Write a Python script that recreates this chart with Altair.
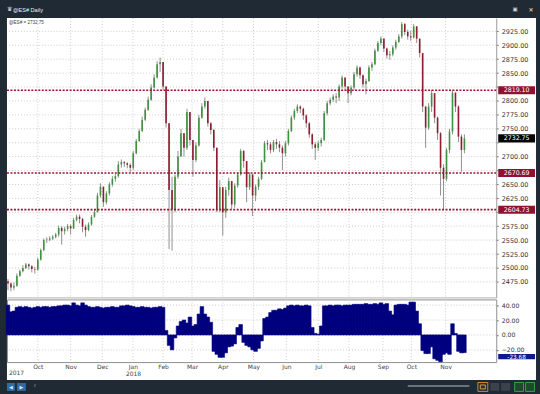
import altair as alt
import numpy as np
import pandas as pd

# ---------------- data (one bar per two sessions) ----------------
closes = [
    2472, 2465, 2468, 2486, 2494, 2500, 2506, 2503, 2498, 2497,
    2515, 2532, 2550, 2551, 2553, 2556, 2560, 2572, 2566, 2570,
    2575, 2571, 2586, 2592, 2588, 2574, 2568, 2578, 2592, 2600,
    2630, 2646, 2618, 2634, 2650, 2660, 2665, 2686, 2690, 2688,
    2685, 2680, 2706, 2728, 2746, 2766, 2784, 2802, 2824, 2842,
    2866, 2870, 2826, 2760, 2640, 2606, 2664, 2700, 2742, 2716,
    2780, 2730, 2694, 2720, 2770, 2790, 2800, 2760, 2748, 2716,
    2606, 2645, 2600, 2640, 2656, 2614, 2648, 2668, 2710, 2692,
    2645, 2668, 2630, 2646, 2660, 2690, 2724, 2722, 2712, 2726,
    2722, 2716, 2706, 2724, 2746, 2770, 2782, 2790, 2786, 2774,
    2760, 2740, 2722, 2716, 2724, 2730, 2778, 2796, 2802, 2808,
    2806, 2826, 2842, 2826, 2814, 2824, 2848, 2860, 2846, 2830,
    2836, 2860, 2866, 2890, 2904, 2912, 2894, 2882, 2884, 2896,
    2906, 2916, 2938, 2924, 2916, 2914, 2934, 2912, 2886, 2790,
    2752, 2790, 2814, 2770, 2742, 2680, 2660, 2712, 2745, 2815,
    2790, 2736, 2712, 2732.75,
]
highs = [
    2480, 2474, 2474, 2490, 2497, 2505, 2509, 2508, 2505, 2502,
    2518, 2535, 2553, 2555, 2557, 2559, 2563, 2576, 2575, 2574,
    2579, 2578, 2590, 2596, 2596, 2590, 2578, 2582, 2595, 2604,
    2635, 2652, 2642, 2638, 2654, 2665, 2669, 2692, 2695, 2692,
    2690, 2688, 2710, 2732, 2750, 2772, 2788, 2808, 2830, 2848,
    2872, 2878, 2866, 2822, 2700, 2664, 2668, 2710, 2750, 2740,
    2786, 2778, 2730, 2726, 2775, 2796, 2806, 2798, 2762, 2750,
    2690, 2658, 2640, 2646, 2662, 2650, 2652, 2672, 2714, 2712,
    2680, 2672, 2660, 2650, 2664, 2694, 2728, 2730, 2726, 2730,
    2732, 2728, 2720, 2728, 2750, 2774, 2786, 2794, 2792, 2788,
    2776, 2762, 2742, 2726, 2728, 2734, 2782, 2800, 2806, 2812,
    2814, 2830, 2846, 2842, 2826, 2828, 2852, 2864, 2862, 2848,
    2840, 2864, 2870, 2894, 2908, 2916, 2912, 2896, 2890, 2900,
    2910, 2920, 2942, 2940, 2928, 2926, 2938, 2934, 2910, 2886,
    2780, 2796, 2820, 2812, 2772, 2744, 2686, 2716, 2750, 2819,
    2814, 2792, 2740, 2740,
]
lows = [
    2460, 2458, 2460, 2466, 2484, 2492, 2498, 2497, 2492, 2490,
    2495, 2513, 2530, 2545, 2548, 2550, 2553, 2556, 2542, 2560,
    2566, 2560, 2570, 2584, 2580, 2564, 2556, 2566, 2576, 2590,
    2600, 2626, 2610, 2614, 2630, 2646, 2655, 2662, 2680, 2681,
    2679, 2672, 2676, 2704, 2726, 2744, 2764, 2782, 2800, 2822,
    2840, 2852, 2820, 2752, 2534, 2531, 2600, 2660, 2700, 2700,
    2712, 2720, 2664, 2690, 2718, 2768, 2786, 2754, 2740, 2710,
    2600, 2600, 2558, 2590, 2630, 2606, 2608, 2644, 2666, 2680,
    2618, 2640, 2593, 2620, 2640, 2658, 2690, 2712, 2706, 2708,
    2714, 2708, 2676, 2700, 2720, 2744, 2766, 2778, 2778, 2766,
    2752, 2734, 2714, 2694, 2710, 2718, 2728, 2774, 2792, 2798,
    2796, 2800, 2822, 2818, 2796, 2810, 2820, 2844, 2840, 2824,
    2812, 2834, 2854, 2864, 2888, 2900, 2888, 2876, 2874, 2880,
    2892, 2904, 2912, 2918, 2910, 2908, 2912, 2904, 2878, 2780,
    2716, 2748, 2780, 2760, 2730, 2630, 2605, 2656, 2706, 2740,
    2780, 2726, 2673, 2706,
]
osc_values = [
    40, 31, 32, 37, 38, 37, 38, 37, 36, 37,
    38, 37, 38, 38, 37, 38, 38, 39, 39, 40,
    40, 39, 43, 40, 39, 43, 40, 38, 37, 37,
    38, 37, 36, 37, 37, 38, 37, 37, 39, 39,
    40, 39, 38, 37, 37, 38, 37, 37, 36, 37,
    37, 38, 37, 6, -14, -20, -4, 12, 18, 20,
    16, 24, 12, 14, 28, 38, 28, 24, 17, -22,
    -26, -30, -30, -24, -16, -15, -12, 10, 14, -10,
    -14, -16, -20, -22, -18, -8, 22, 24, 30, 33,
    33, 35, 34, 36, 39, 40, 39, 40, 39, 39,
    40, 39, 10, 2, 1, 12, 39, 39, 40, 39,
    40, 40, 39, 40, 40, 40, 41, 41, 41, 41,
    42, 41, 41, 42, 41, 43, 41, 42, 32, 27,
    40, 41, 41, 41, 40, 44, 44, 32, 15, -21,
    -25, -25, -16, -32, -34, -36, -26, -24, -26, 15,
    2, -22, -24, -23.68,
]
first_open = 2476

month_ticks = [10, 21, 31.6, 41.9, 52, 61.7, 72, 82.3, 93.3, 104, 114.3, 125.7, 135.2, 146.7]
month_labels = ["Oct", "Nov", "Dec", "Jan", "Feb", "Mar", "Apr", "May", "Jun", "Jul", "Aug", "Sep", "Oct", "Nov"]
year_at_month = {"Jan": "2018"}
first_year = "2017"
price_ticks = list(range(2475, 2926, 25))
price_hidden = [2825, 2725, 2675, 2600]
osc_ticks = [-20, 0, 20, 40]
level_values = [2819.10, 2670.69, 2604.73]
last_price = 2732.75
last_osc = -23.68
symbol = "@ES#"

# ---------------- styles ----------------
FRAME = "#1f2a35"
UP = "#3f923f"
DOWN = "#901c30"
WICK = "#909090"
LEVEL = "#9b1030"
NAVY = "#00007f"
GRID = "#cdcdcd"
FONT = "DejaVu Sans"
W, H1, H2 = 492, 281, 63

# ---------------- tables ----------------
df = pd.DataFrame({"close": closes, "high": highs, "low": lows, "osc": osc_values})
df["k"] = np.arange(len(df))
df["open"] = [first_open] + closes[:-1]
df["hi"] = df[["high", "open", "close"]].max(axis=1)
df["lo"] = df[["low", "open", "close"]].min(axis=1)
df["dir"] = np.where(df["close"] >= df["open"], "up", "down")
df["x0"] = df["k"] - 0.27
df["x1"] = df["k"] + 0.27
df["b0"] = df["k"] - 0.6
df["b1"] = df["k"] + 0.6

one = pd.DataFrame({"a": [0]})
pgrid = pd.DataFrame({"p": price_ticks})
ogrid = pd.DataFrame({"p": osc_ticks})
mgrid = pd.DataFrame({"t": month_ticks})
lv = pd.DataFrame({"v": level_values})
lv["hi"] = lv["v"] + 7.2
lv["lo"] = lv["v"] - 7.2
lv["lab"] = [f"{v:.2f}" for v in level_values]
lp = pd.DataFrame({"v": [last_price], "hi": [last_price + 7.2], "lo": [last_price - 7.2],
                   "lab": [f"{last_price:.2f}"]})
# the value box of the oscillator sits just below its own level, as in the reference
lo_ = pd.DataFrame({"v": [last_osc - 5.4], "hi": [last_osc - 1.8], "lo": [last_osc - 9.0],
                    "lab": [f"{last_osc:.2f}"]})

xs = alt.Scale(domain=[-1 / 3, 491 / 3], nice=False, zero=False)
ys = alt.Scale(domain=[2447, 2949], nice=False, zero=False)
os_ = alt.Scale(domain=[-36.4, 47.6], nice=False, zero=False)

hidden = ",".join(str(v) for v in price_hidden)
yax = alt.Axis(orient="right", values=price_ticks, title=None, grid=False, domain=True,
               domainColor="#9a9a9a", ticks=True, tickSize=2, tickColor="#777",
               labelExpr=f"indexof([{hidden}], datum.value) >= 0 ? '' : format(datum.value, '.2f')",
               labelFont=FONT, labelFontSize=6.5, labelColor="#333", labelPadding=3,
               minExtent=40, maxExtent=40, zindex=1)
xax_top = alt.Axis(orient="bottom", title=None, labels=False, ticks=False, grid=False,
                   domain=True, domainColor="#b0b0b0", minExtent=0, maxExtent=0, zindex=1)

mexpr = "''"
for t, name in reversed(list(zip(month_ticks, month_labels))):
    lab = f"['{name}', '{year_at_month[name]}']" if name in year_at_month else f"'{name}'"
    mexpr = f"abs(datum.value - {t}) < 0.05 ? {lab} : {mexpr}"

xax_bot = alt.Axis(orient="bottom", values=month_ticks, title=None, grid=False, domain=False,
                   ticks=False, labelExpr=mexpr, labelFont=FONT, labelFontSize=6,
                   labelColor="#444", labelPadding=1, labelLineHeight=7,
                   labelOverlap=False, labelFlush=False, minExtent=32, maxExtent=32)
oax = alt.Axis(orient="right", values=osc_ticks, format=".2f", title=None, grid=False,
               domain=False, ticks=True, tickSize=2, tickColor="#777", labelFont=FONT,
               labelFontSize=6.2, labelColor="#333", labelPadding=3, minExtent=40, maxExtent=40)


def deco_rect(x, x2, y, y2, fill, stroke=None):
    kw = {"fill": fill}
    if stroke:
        kw.update(stroke=stroke, strokeWidth=1)
    return alt.Chart(one).mark_rect(**kw).encode(
        x=alt.value(x), x2=alt.value(x2), y=alt.value(y), y2=alt.value(y2))


def deco_text(x, y, s, color, size, font="Liberation Sans", align="center"):
    return alt.Chart(one).mark_text(color=color, fontSize=size, font=font, align=align,
                                    baseline="middle").encode(
        x=alt.value(x), y=alt.value(y), text=alt.value(s))


# ---------------- title bar ----------------
title_chart = alt.layer(
    deco_text(0, 6, "♛", "#e8e8e8", 6, font="DejaVu Sans", align="left"),
    deco_text(6, 6.5, f"{symbol} Daily", "#f0f0f0", 5.6, align="left"),
    deco_text(511, 6, "▣", "#d8d8d8", 5.5, font="DejaVu Sans"),
    deco_text(527, 6.5, "✕", "#e8e8e8", 6, font="DejaVu Sans"),
).properties(width=W, height=13, view=alt.ViewBackground(stroke="transparent"))

# ---------------- price panel ----------------
X = lambda f: alt.X(f, scale=xs, axis=xax_top)
Y = lambda f: alt.Y(f, scale=ys, axis=yax)

white = deco_rect(0, 532, 0, 364, "white")
hgrid = alt.Chart(pgrid).mark_rule(color=GRID, strokeDash=[1, 2], strokeWidth=1).encode(y=Y("p:Q"))
vgrid = alt.Chart(mgrid).mark_rule(color=GRID, strokeDash=[1, 2], strokeWidth=1).encode(x=X("t:Q"))
wicks = alt.Chart(df).mark_rule(color=WICK, strokeWidth=1).encode(x=X("k:Q"), y=Y("lo:Q"), y2="hi:Q")
bodies = alt.Chart(df).mark_rect().encode(
    x=X("x0:Q"), x2="x1:Q", y=Y("open:Q"), y2="close:Q",
    color=alt.Color("dir:N", scale=alt.Scale(domain=["up", "down"], range=[UP, DOWN]), legend=None))
lvl_rules = alt.Chart(lv).mark_rule(color=LEVEL, strokeDash=[2, 1.5], strokeWidth=1.6).encode(y=Y("v:Q"))
lvl_box = alt.Chart(lv).mark_rect(color="#8e1230").encode(
    x=alt.value(494), x2=alt.value(531), y=Y("hi:Q"), y2="lo:Q")
lvl_txt = alt.Chart(lv).mark_text(color="white", fontSize=6.3, font=FONT).encode(
    x=alt.value(512.5), y=Y("v:Q"), text="lab:N")
lp_box = alt.Chart(lp).mark_rect(color="#050505").encode(
    x=alt.value(494), x2=alt.value(531), y=Y("hi:Q"), y2="lo:Q")
lp_txt = alt.Chart(lp).mark_text(color="white", fontSize=6.3, font=FONT).encode(
    x=alt.value(512.5), y=Y("v:Q"), text="lab:N")
corner = deco_text(2, 5, f"{symbol} = {last_price:.2f}", "#444", 4.6, align="left")

price_chart = alt.layer(
    white, hgrid, vgrid, wicks, bodies, lvl_rules, lvl_box, lvl_txt, lp_box, lp_txt, corner
).properties(width=W, height=H1, view=alt.ViewBackground(stroke="transparent"))

# ---------------- oscillator panel ----------------
XO = lambda f: alt.X(f, scale=xs, axis=xax_bot)
YO = lambda f: alt.Y(f, scale=os_, axis=oax)

o_hgrid = alt.Chart(ogrid).mark_rule(color=GRID, strokeDash=[1, 2], strokeWidth=1).encode(y=YO("p:Q"))
o_vgrid = alt.Chart(mgrid).mark_rule(color=GRID, strokeDash=[1, 2], strokeWidth=1).encode(x=XO("t:Q"))
o_bars = alt.Chart(df).mark_rect(color=NAVY, stroke=NAVY, strokeWidth=0.6).encode(
    x=XO("b0:Q"), x2="b1:Q", y=YO("osc:Q"), y2=alt.datum(0))
o_box = alt.Chart(lo_).mark_rect(color="#0c1a8c").encode(
    x=alt.value(494), x2=alt.value(531), y=YO("hi:Q"), y2="lo:Q")
o_txt = alt.Chart(lo_).mark_text(color="white", fontSize=5.8, font=FONT).encode(
    x=alt.value(512.5), y=YO("v:Q"), text="lab:N")
year0 = deco_text(2, 73.5, first_year, "#444", 6, font=FONT, align="left")

decos = [
    deco_rect(0, 8, 84, 92, "#2d6ca6"),
    deco_text(4, 88, "◀", "#cfe6ff", 5, font=FONT),
    deco_rect(10, 19, 84, 92, "#2d6ca6"),
    deco_text(14.5, 88, "▶", "#cfe6ff", 5, font=FONT),
    deco_text(28, 87.5, "‹", "#8a949c", 7),
    deco_rect(403, 465, 86, 88, "#6b737a"),
    deco_rect(473.5, 483.5, 83.5, 92.5, "#2a3038", "#d08a1e"),
    deco_rect(476, 481, 86, 90, "#2a3038", "#d0a040"),
    deco_rect(486, 495, 84, 92, "#3a424a"),
    deco_rect(497, 506, 84, 92, "#3a424a"),
    deco_rect(510.5, 519.5, 83.5, 92.5, "#1f4a2a", "#3aa04a"),
    deco_rect(521.5, 530.5, 83.5, 92.5, "#1f4a2a", "#3aa04a"),
]

osc_chart = alt.layer(
    o_hgrid, o_vgrid, o_bars, o_box, o_txt, year0, *decos
).properties(width=W, height=H2, view=alt.ViewBackground(stroke="#8f8f8f"))

chart = alt.vconcat(title_chart, price_chart, osc_chart, spacing=2, bounds="flush").configure(
    background=FRAME, padding={"left": 5, "top": 1, "right": 3, "bottom": 0})

chart.save("out.html", embed_options={"renderer": "svg", "actions": False})
